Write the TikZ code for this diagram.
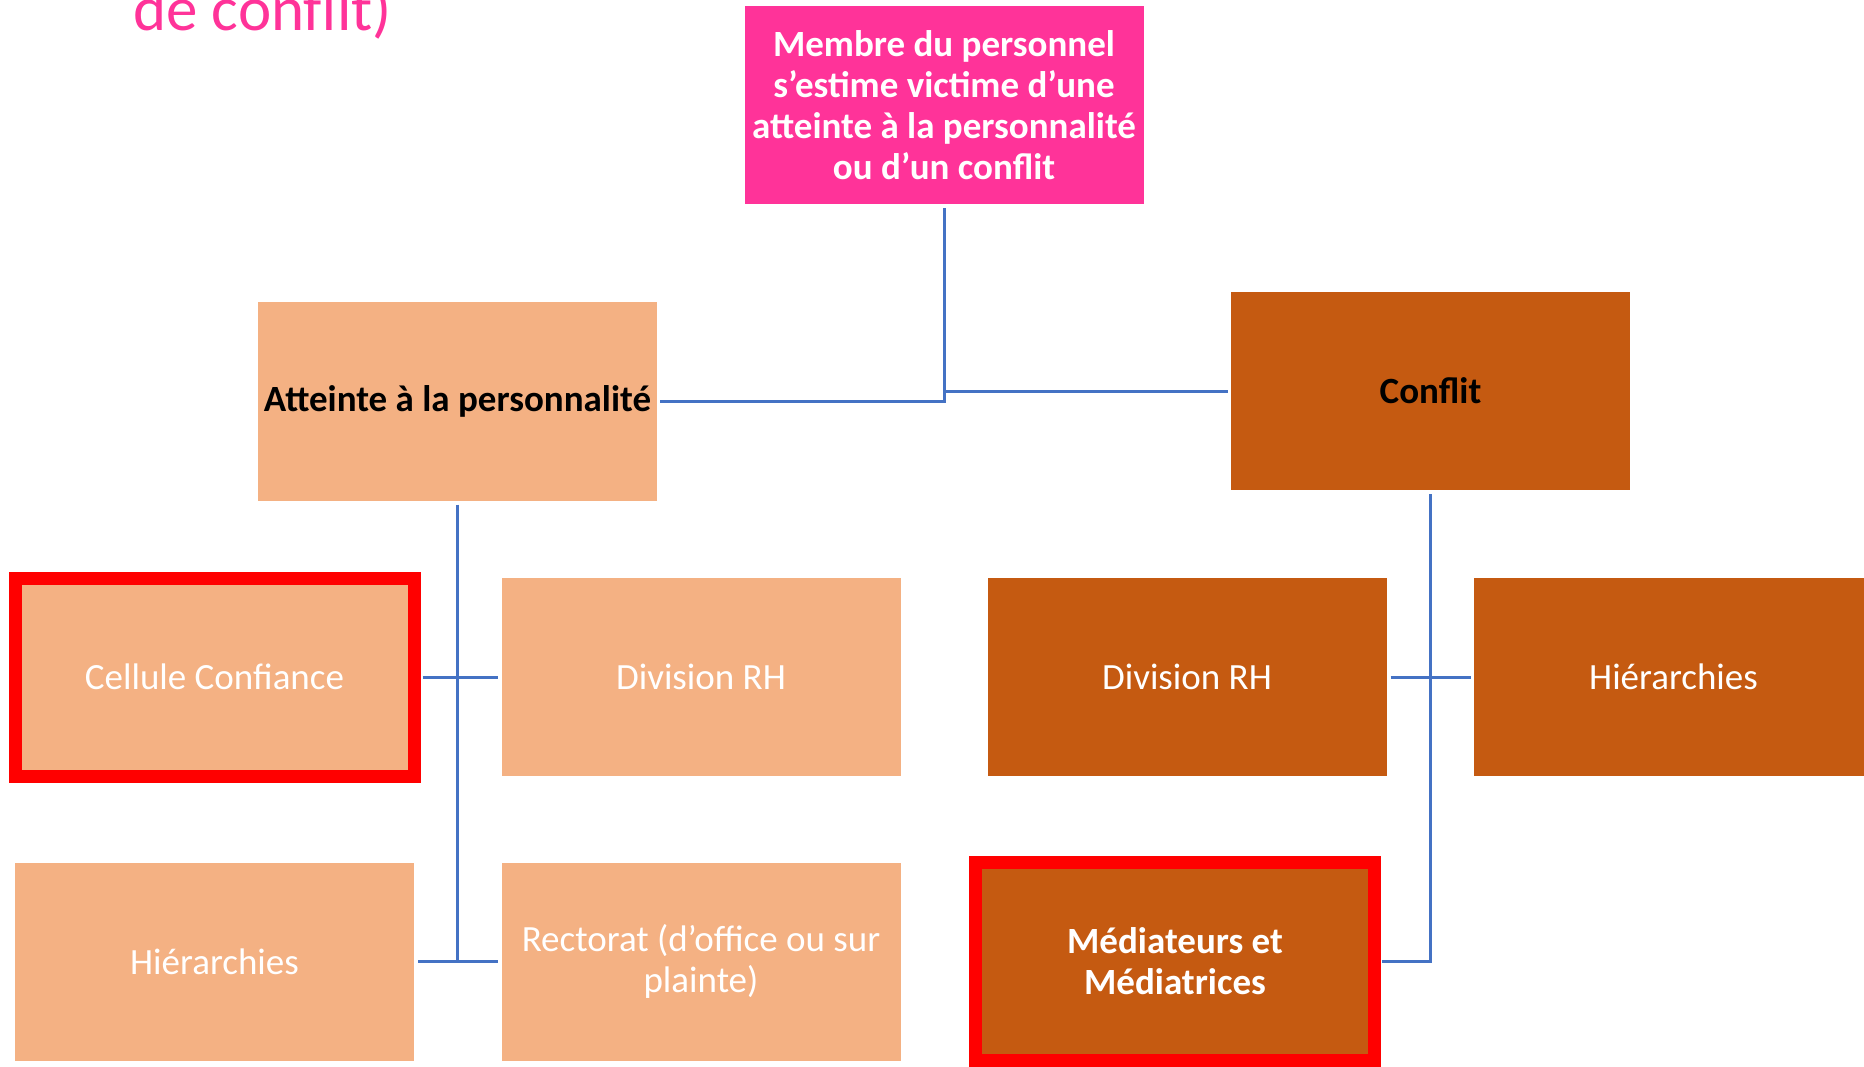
\documentclass[tikz,border=0pt]{standalone}
\usepackage{fontspec}
\setmainfont{Carlito}
\usetikzlibrary{calc}
\definecolor{titlepink}{HTML}{FF3399}
\definecolor{palebox}{HTML}{F4B183}
\definecolor{rustbox}{HTML}{C55A11}
\definecolor{linkblue}{HTML}{4472C4}

\begin{document}
\begin{tikzpicture}[x=1pt,y=-1pt,
  box/.style={rectangle,minimum width=399pt,minimum height=198pt,inner sep=0pt,
    align=center,text=white,font=\fontsize{37}{41}\selectfont},
  pale/.style={box,fill=palebox},
  rust/.style={box,fill=rustbox},
  framed/.style={draw=red,line width=13pt},
  heading/.style={text=black,font=\fontsize{37}{41}\selectfont\bfseries},
  link/.style={draw=linkblue,line width=3pt,shorten <=4pt,shorten >=3pt}]
% Page
\fill[white] (0,0) rectangle (1864,1067);
\useasboundingbox (0,0) rectangle (1864,1067);
% Title, cut at the top
\node[anchor=base west,inner sep=0pt,text=titlepink,font=\fontsize{63}{70}\selectfont] (title) at (133,31) {de conflit)};
% Root
\node[box,fill=titlepink,font=\fontsize{37}{41}\selectfont\bfseries] (membre) at (944,105)
  {Membre du personnel\\s’estime victime d’une\\atteinte à la personnalité\\ou d’un conflit};
% Two branches
\node[pale,heading] (atteinte) at (457.5,401.5) {Atteinte à la personnalité};
\node[rust,heading] (conflit) at (1430.5,391) {Conflit};
% Left branch
\node[pale,framed] (cellule) at (214.5,677) {Cellule Confiance};
\node[pale] (divrhA) at (701,677) {Division RH};
\node[pale] (hierA) at (214.5,961.5) {Hiérarchies};
\node[pale] (rectorat) at (701,961.5) {Rectorat (d’office ou sur\\plainte)};
% Right branch
\node[rust] (divrhB) at (1187,677) {Division RH};
\node[rust] (hierB) at (1673.5,677) {Hiérarchies};
\node[rust,framed,font=\fontsize{37}{41}\selectfont\bfseries] (mediateurs) at (1175,961.5) {Médiateurs et\\Médiatrices};
% Connectors from the root
\draw[link] (membre.south) |- (atteinte.east);
\draw[link] (membre.south) |- (conflit.west);
% Left bus
\draw[link,shorten >=0pt] (atteinte.south) -- (atteinte.south |- hierA.east);
\draw[link,shorten <=2pt] (cellule.east) -- (divrhA.west);
\draw[link] (hierA.east) -- (rectorat.west);
% Right bus
\draw[link] (divrhB.east) -- (hierB.west);
\draw[link,shorten >=1pt] (conflit.south) |- (mediateurs.east);
\end{tikzpicture}
\end{document}
